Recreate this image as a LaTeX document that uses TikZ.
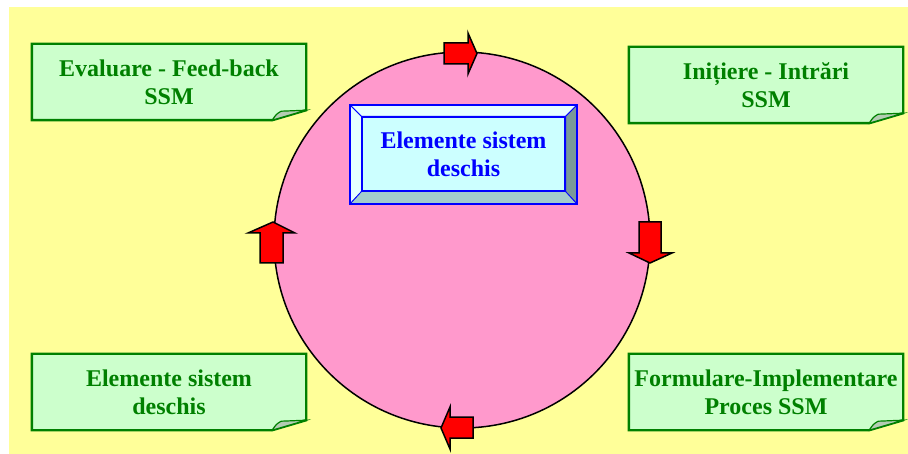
\documentclass[tikz,border=0pt]{standalone}
\usepackage{fontspec}
\setmainfont{Liberation Serif}
\usetikzlibrary{positioning, backgrounds}

\definecolor{bgyellow}{HTML}{FFFF99}
\definecolor{discpink}{HTML}{FF99CC}
\definecolor{notegreen}{HTML}{CCFFCC}
\definecolor{inkgreen}{HTML}{008000}
\definecolor{curlgray}{HTML}{B4CCB4}
\definecolor{corecyan}{HTML}{CCFFFF}
\definecolor{bevellight}{HTML}{E6FFFF}
\definecolor{beveldark}{HTML}{7A9999}
\definecolor{bevelmid}{HTML}{A3CCCC}
\definecolor{inkblue}{HTML}{0000FF}

\begin{document}
\begin{tikzpicture}[
  x=1pt, y=-1pt,
  every node/.style = {font=\fontsize{24}{28}\selectfont\bfseries},
  note/.style    = {minimum width=274pt, minimum height=76pt,
                    inner sep=0pt, align=center, text=inkgreen},
  noteline/.style = {draw=inkgreen, line width=2.4pt, fill=notegreen},
  curl/.style    = {draw=inkgreen, line width=1.2pt, fill=curlgray},
  core/.style    = {rectangle, draw=inkblue, line width=1.2pt,
                    fill=corecyan, minimum width=203pt,
                    minimum height=74pt, inner sep=0pt,
                    align=center, text=inkblue},
  bevel/.style   = {draw=inkblue, line width=0.8pt, fill=#1},
  disc/.style    = {draw=black, line width=1.5pt, fill=discpink},
  redarr/.style  = {draw=black, line width=1.5pt, fill=red},
]
\useasboundingbox (0,0) rectangle (908,454);

%% ══ NOTES: four corner labels ═══════════════════════════════════════════
\node[note] at (169, 82)  (evaluate)  {Evaluare - Feed-back\\SSM};
\node[note] at (766, 85)  (initiate)  {Inițiere - Intrări\\SSM};
\node[note] at (766, 392) (implement) {Formulare-Implementare\\Proces SSM};
\node[note] at (169, 392) (elements)  {Elemente sistem\\deschis};

%% ══ CORE: bevelled box inside the disc ══════════════════════════════════
\coordinate (frameNW) at (350, 105);
\coordinate (frameSE) at (577, 204);
\node[core] at (463.5, 154) (core) {Elemente sistem\\deschis};

%% ── everything behind the texts ─────────────────────────────────────────
\begin{scope}[on background layer]
  \fill[bgyellow] (9,7) rectangle (908,454);
  \draw[disc] (462,240) circle[radius=188pt];

  \foreach \n in {evaluate, initiate, implement, elements} {
    \draw[noteline] (\n.north west) -- (\n.north east)
      -- ([yshift=10pt]\n.south east) -- ([xshift=-34pt]\n.south east)
      -- (\n.south west) -- cycle;
    \draw[curl] ([xshift=-34pt]\n.south east)
      .. controls ([xshift=-30pt,yshift=6pt]\n.south east) ..
      ([xshift=-25pt,yshift=9pt]\n.south east)
      -- ([yshift=10pt]\n.south east) -- cycle;
  }

  \draw[bevel=bevellight] (frameNW) -- (frameNW -| frameSE)
    -- (core.north east) -- (core.north west) -- cycle;
  \draw[bevel=bevellight] (frameNW) -- (core.north west)
    -- (core.south west) -- (frameNW |- frameSE) -- cycle;
  \draw[bevel=beveldark] (frameNW -| frameSE) -- (frameSE)
    -- (core.south east) -- (core.north east) -- cycle;
  \draw[bevel=bevelmid] (frameNW |- frameSE) -- (frameSE)
    -- (core.south east) -- (core.south west) -- cycle;
  \draw[draw=inkblue, line width=2pt] (frameNW) rectangle (frameSE);
\end{scope}

%% ══ ARROWS: clockwise round the disc ════════════════════════════════════
\draw[redarr] (444,43) -- (468,43) -- (468,33) -- (477,53.5)
  -- (468,74) -- (468,64) -- (444,64) -- cycle;
\draw[redarr] (639,222) -- (661,222) -- (661,253) -- (672,253)
  -- (650,263) -- (629,253) -- (639,253) -- cycle;
\draw[redarr] (473,417) -- (450,417) -- (450,407) -- (441,428)
  -- (450,449) -- (450,438) -- (473,438) -- cycle;
\draw[redarr] (260,263) -- (260,233) -- (248,233) -- (273,222)
  -- (295,233) -- (283,233) -- (283,263) -- cycle;

\end{tikzpicture}
\end{document}
